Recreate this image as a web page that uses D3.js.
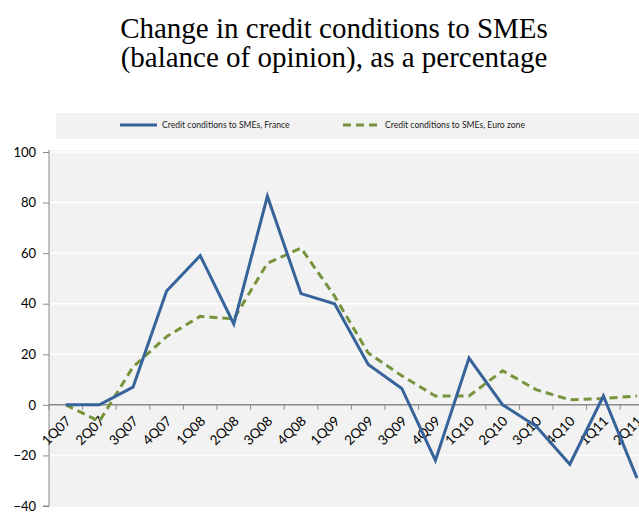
<!DOCTYPE html>
<html>
<head>
<meta charset="utf-8">
<script src="https://cdn.jsdelivr.net/npm/d3@7"></script>
<style>
    body { margin: 0; background: #fff; }
    svg { display: block; }
    .tick text { font-family: Lato, "Noto Sans", sans-serif; }
</style>
</head>
<body>
<script>
// Chart data
let quarters = ["1Q07", "2Q07", "3Q07", "4Q07", "1Q08", "2Q08", "3Q08", "4Q08", "1Q09",
                "2Q09", "3Q09", "4Q09", "1Q10", "2Q10", "3Q10", "4Q10", "1Q11", "2Q11"];
let france = [0, 0, 7, 45, 59, 32, 82.5, 44, 40, 16, 6.5, -22, 18.5, 0, -8.5, -23.5, 3.5, -29];
let euroZone = [0, -6.5, 15, 27, 35, 34, 56, 62, 43, 20.5, 11.5, 3.5, 3.5, 13.5, 6, 2, 2.5, 3.5];
let yTicks = [-40, -20, 0, 20, 40, 60, 80, 100];
let titleLines = ["Change in credit conditions to SMEs", "(balance of opinion), as a percentage"];
let seriesNames = ["Credit conditions to SMEs, France", "Credit conditions to SMEs, Euro zone"];

let opts = {
    width: 639,
    height: 512,
    left: 49,
    step: 33.6,
    top: 152,
    bottom: 506,
    blue: "#35639a",
    green: "#77933c",
    panel: "#f2f2f2",
    axis: "#8a8a8a"
};

let svg = d3.select("body")
            .append("svg")
            .attr("width", opts.width)
            .attr("height", opts.height);

let x = d3.scaleBand()
          .domain(quarters)
          .range([opts.left, opts.left + opts.step * quarters.length]);

let y = d3.scaleLinear()
          .domain([-40, 100])
          .range([opts.bottom, opts.top]);

drawTitle();
drawLegend();
drawPanel();
drawLines();

// Two line title in a serif font
function drawTitle() {
    svg.append("g")
       .selectAll("text")
       .data(titleLines)
       .enter()
       .append("text")
       .attr("x", 334)
       .attr("y", (d, i) => 38 + i * 28.5)
       .attr("text-anchor", "middle")
       .attr("font-family", "'Liberation Serif', 'Times New Roman', serif")
       .attr("font-size", 29)
       .text((d) => d);
}

// Legend strip above the plot
function drawLegend() {
    let g = svg.append("g");
    g.append("rect")
     .attr("x", 56).attr("y", 113)
     .attr("width", opts.width - 56).attr("height", 26)
     .attr("fill", opts.panel);

    let items = [
        {name: seriesNames[0], color: opts.blue, dash: null, x: 120},
        {name: seriesNames[1], color: opts.green, dash: "8,5", x: 343}
    ];
    let item = g.selectAll("g.item")
                .data(items)
                .enter()
                .append("g")
                .attr("transform", (d) => `translate(${d.x},125)`);
    item.append("line")
        .attr("x1", 0).attr("x2", 37)
        .attr("stroke", (d) => d.color)
        .attr("stroke-width", 3)
        .attr("stroke-dasharray", (d) => d.dash);
    item.append("text")
        .attr("x", 42)
        .attr("dy", "0.35em")
        .attr("font-family", "Lato, 'Noto Sans', sans-serif")
        .attr("font-size", 8.6)
        .attr("fill", "#222")
        .text((d) => d.name);
}

// Grey plot area, gridlines and axes
function drawPanel() {
    svg.append("rect")
       .attr("x", opts.left).attr("y", opts.top - 2)
       .attr("width", opts.width - opts.left)
       .attr("height", opts.bottom - opts.top + 3)
       .attr("fill", opts.panel);

    svg.append("g")
       .selectAll("line")
       .data(yTicks.filter((d) => d !== 0 && d !== -40))
       .enter()
       .append("line")
       .attr("x1", opts.left).attr("x2", opts.width)
       .attr("y1", (d) => y(d)).attr("y2", (d) => y(d))
       .attr("stroke", "#fff")
       .attr("stroke-width", 1.5);

    // Y axis
    let yAxis = svg.append("g")
       .attr("transform", `translate(${opts.left},0)`)
       .call(d3.axisLeft(y).tickValues(yTicks).tickSize(6).tickPadding(7));
    yAxis.selectAll("text").attr("font-size", 13).attr("fill", "#000");
    yAxis.selectAll("line, path").attr("stroke", opts.axis);
    yAxis.select(".domain").attr("d", `M-6,${opts.bottom}H0V${opts.top - 2}`);

    // X axis along zero, ticks between categories
    let xAxis = svg.append("g")
       .attr("transform", `translate(0,${y(0)})`)
       .call(d3.axisBottom(x).tickSize(0).tickFormat(""));
    xAxis.select(".domain")
         .attr("d", `M${opts.left},0H${opts.width}`)
         .attr("stroke", opts.axis)
         .attr("stroke-width", 1.5);
    xAxis.append("g")
         .selectAll("line")
         .data(d3.range(quarters.length + 1))
         .enter()
         .append("line")
         .attr("x1", (i) => opts.left + i * opts.step)
         .attr("x2", (i) => opts.left + i * opts.step)
         .attr("y1", 0).attr("y2", 5)
         .attr("stroke", opts.axis);
    xAxis.append("g")
         .selectAll("text")
         .data(quarters)
         .enter()
         .append("text")
         .attr("transform", (d) => `translate(${x(d) + x.bandwidth() / 2 + 6},${17}) rotate(-45)`)
         .attr("text-anchor", "end")
         .attr("font-family", "Lato, 'Noto Sans', sans-serif")
         .attr("font-size", 13.5)
         .attr("fill", "#000")
         .text((d) => d);
}

// The two series
function drawLines() {
    let line = (values) => d3.line()
        .x((d, i) => x(quarters[i]) + x.bandwidth() / 2)
        .y((d) => y(d))(values);

    svg.append("path")
       .attr("d", line(euroZone))
       .attr("fill", "none")
       .attr("stroke", opts.green)
       .attr("stroke-width", 3)
       .attr("stroke-dasharray", "8,5");

    svg.append("path")
       .attr("d", line(france))
       .attr("fill", "none")
       .attr("stroke", opts.blue)
       .attr("stroke-width", 3);
}
</script>
</body>
</html>
